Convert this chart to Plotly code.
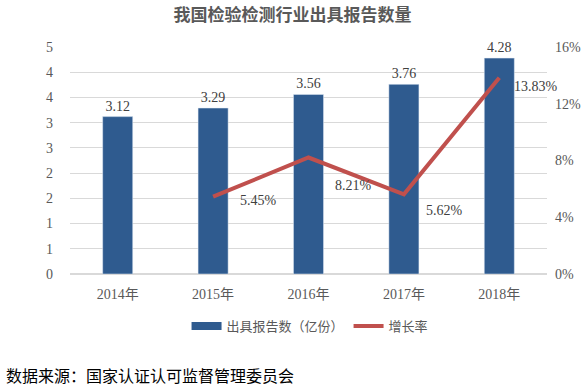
import plotly.graph_objects as go

years = ["2014年", "2015年", "2016年", "2017年", "2018年"]
reports = [3.12, 3.29, 3.56, 3.76, 4.28]
growth_years = ["2015年", "2016年", "2017年", "2018年"]
growth = [5.45, 8.21, 5.62, 13.83]
left_tickvals = [0, 0.5, 1, 1.5, 2, 2.5, 3, 3.5, 4, 4.5]
left_ticktext = ["0", "1", "1", "2", "2", "3", "3", "4", "4", "5"]
right_tickvals = [0, 4, 8, 12, 16]
right_ticktext = ["0%", "4%", "8%", "12%", "16%"]

bar_name = "出具报告数（亿份）"
line_name = "增长率"
title = "我国检验检测行业出具报告数量"
source = "数据来源：国家认证认可监督管理委员会"

label_xshift = [45, 45, 41, 37]
label_yshift = [-4, -28, -16, -9]

FONT = "Liberation Serif, 'Times New Roman', 'Noto Sans CJK SC', serif"
BLUE = "#2F5B8F"
RED = "#C0504D"
GRAY = "#595959"
H = 388

fig = go.Figure()
fig.add_trace(go.Bar(
    x=years, y=reports, marker_color=BLUE, width=0.315,
    text=[f"{v:.2f}" for v in reports], textposition="outside",
    textfont=dict(family=FONT, size=14, color="#404040"),
    cliponaxis=False, showlegend=False, yaxis="y",
))
# legend proxy for bars (wide rectangle)
fig.add_trace(go.Scatter(
    x=[years[0]], y=[None], mode="lines", name=bar_name,
    line=dict(color=BLUE, width=8), yaxis="y",
))
fig.add_trace(go.Scatter(
    x=growth_years, y=growth, mode="lines", name=line_name,
    line=dict(color=RED, width=4), yaxis="y2",
))
for x, v, dx, dy in zip(growth_years, growth, label_xshift, label_yshift):
    fig.add_annotation(
        x=x, y=v, xref="x", yref="y2", text=f"{v:.2f}%", showarrow=False,
        xshift=dx, yshift=dy, xanchor="center", yanchor="middle",
        font=dict(family=FONT, size=14, color="#404040"),
    )

fig.add_annotation(
    x=0, y=0, xref="paper", yref="paper", text=source, showarrow=False,
    xanchor="left", yanchor="middle", xshift=-66, yshift=-101,
    font=dict(family="'Noto Sans CJK SC', sans-serif", size=16, color="#000000"),
)

fig.update_layout(
    width=585, height=H,
    margin=dict(l=70, r=38, t=47, b=114),
    paper_bgcolor="white", plot_bgcolor="white",
    title=dict(text=f"<b>{title}</b>", x=0.5, xref="container", xanchor="center",
               y=1 - 15 / H, yref="container", yanchor="middle",
               font=dict(family=FONT, size=17, color=GRAY)),
    font=dict(family=FONT, color=GRAY, size=13),
    xaxis=dict(showgrid=False, showline=False, ticks="", automargin=False,
               range=[-0.5, 4.5], ticklabelstandoff=10,
               tickfont=dict(family=FONT, size=14, color=GRAY)),
    yaxis=dict(range=[0, 4.5], tickvals=left_tickvals, ticktext=left_ticktext,
               showgrid=True, gridcolor="#D9D9D9", gridwidth=1, automargin=False,
               zeroline=True, zerolinecolor="#D9D9D9", showline=False,
               ticklabelstandoff=16,
               tickfont=dict(family=FONT, size=14, color=GRAY)),
    yaxis2=dict(range=[0, 16], tickvals=right_tickvals, ticktext=right_ticktext,
                overlaying="y", side="right", showgrid=False, zeroline=False,
                showline=False, ticklabelstandoff=7, automargin=False,
                tickfont=dict(family=FONT, size=14, color=GRAY)),
    legend=dict(orientation="h", x=0.53, xref="container", xanchor="center",
                y=1 - 326 / H, yref="container", yanchor="middle",
                font=dict(family="'Noto Sans CJK SC', sans-serif", size=13, color=GRAY),
                itemwidth=30),
)

fig.write_html("out.html", config={"displayModeBar": False},
               post_script="document.body.style.margin='0';")
